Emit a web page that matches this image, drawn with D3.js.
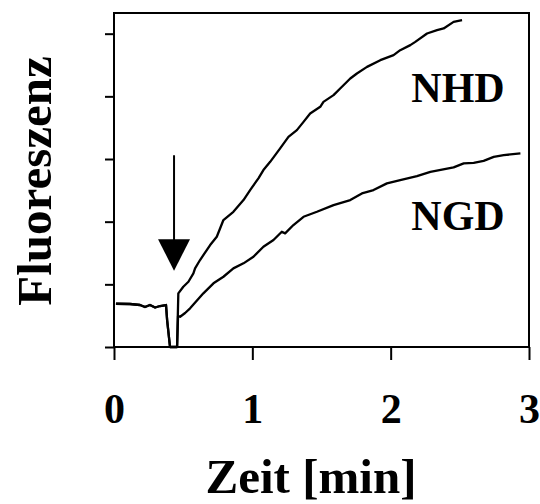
<!DOCTYPE html>
<html>
  <head>
    <meta charset="utf-8">
    <title>Fluoreszenz NHD / NGD</title>
    <script src="https://d3js.org/d3.v7.min.js"></script>
    <style>
      body { margin: 0; background: #fff; }
      text { font-family: "Liberation Serif", "Times New Roman", serif; font-weight: bold; }
    </style>
  </head>
  <body>
    <div id="chart"></div>
    <script>

      // time [min] and fluorescence (arbitrary units, 1 unit = one y tick)
      var baseT = [0.014, 0.116, 0.188, 0.224, 0.26, 0.297, 0.333, 0.376, 0.384, 0.405, 0.456];
      var baseF = [0.69, 0.686, 0.67, 0.638, 0.67, 0.63, 0.654, 0.67, 0.43, 0, 0];

      var nhdT = [0.465, 0.501, 0.538, 0.574, 0.586, 0.622, 0.695, 0.743, 0.791, 0.863, 0.936, 0.984,
                  1.044, 1.08, 1.129, 1.201, 1.261, 1.322, 1.37, 1.418, 1.491, 1.514, 1.587, 1.635,
                  1.708, 1.756, 1.829, 1.925, 2.021, 2.069, 2.142, 2.178, 2.263, 2.335, 2.383, 2.455, 2.516];
      var nhdF = [0.856, 0.962, 1.041, 1.175, 1.255, 1.388, 1.627, 1.759, 2.026, 2.158, 2.344, 2.504,
                  2.691, 2.823, 2.955, 3.169, 3.354, 3.461, 3.593, 3.727, 3.833, 3.912, 4.019, 4.126,
                  4.285, 4.365, 4.47, 4.577, 4.657, 4.737, 4.817, 4.869, 5.003, 5.056, 5.083, 5.188, 5.215];

      var ngdT = [0.463, 0.478, 0.514, 0.55, 0.646, 0.719, 0.791, 0.863, 0.936, 1.008, 1.08, 1.153,
                  1.213, 1.237, 1.297, 1.37, 1.467, 1.587, 1.708, 1.792, 1.876, 1.973, 2.069, 2.19,
                  2.287, 2.455, 2.528, 2.6, 2.672, 2.745, 2.817, 2.938];
      var ngdF = [0.494, 0.483, 0.542, 0.617, 0.856, 1.016, 1.121, 1.255, 1.335, 1.44, 1.6, 1.707,
                  1.839, 1.813, 1.946, 2.078, 2.158, 2.265, 2.344, 2.451, 2.504, 2.611, 2.663, 2.727,
                  2.796, 2.866, 2.93, 2.939, 2.971, 3.035, 3.062, 3.089];

      var xTicks = [0, 1, 2, 3];
      var yTicks = [0, 1, 2, 3, 4, 5];

      // arrow marking the addition (time, top, arrow head top, tip)
      var arrowT = 0.434, arrowTop = 3.06, arrowHead = 1.72, arrowTip = 1.217;

      var width = 540,
          height = 504,
          margin = {top: 13, right: 11, bottom: 157, left: 114};

      var svg = d3.select("#chart")
        .append("svg")
          .attr("width", width)
          .attr("height", height);

      var x = d3.scaleLinear().domain([0, 3]).range([margin.left, width - margin.right]);
      var y = d3.scaleLinear().domain([0, 5.33]).range([height - margin.bottom, margin.top]);

      function zip(t, f) {
        return t.map(function(d, i) { return [d, f[i]]; });
      }
      var base = zip(baseT, baseF);
      var nhd = base.concat(zip(nhdT, nhdF));
      var ngd = base.concat(zip(ngdT, ngdF));

      // frame
      svg.append("rect")
        .attr("x", margin.left)
        .attr("y", margin.top)
        .attr("width", width - margin.left - margin.right)
        .attr("height", height - margin.top - margin.bottom)
        .attr("fill", "none")
        .attr("stroke", "black")
        .attr("stroke-width", 2);

      // x axis
      var xAxis = svg.append("g")
        .attr("transform", "translate(0," + (height - margin.bottom) + ")")
        .call(d3.axisBottom(x).tickValues(xTicks).tickSize(13).tickPadding(33).tickFormat(d3.format("d")));
      xAxis.select(".domain").remove();
      xAxis.selectAll("line").attr("stroke-width", 2);
      xAxis.selectAll("text").attr("font-size", 42).attr("fill", "black")
        .style("font-family", '"Liberation Serif", serif').style("font-weight", "bold");

      // y axis, no labels
      var yAxis = svg.append("g")
        .attr("transform", "translate(" + margin.left + ",0)")
        .call(d3.axisLeft(y).tickValues(yTicks).tickSize(9).tickFormat(""));
      yAxis.select(".domain").remove();
      yAxis.selectAll("line").attr("stroke-width", 2);

      var line = d3.line()
        .x(function(d) { return x(d[0]); })
        .y(function(d) { return y(d[1]); });

      [nhd, ngd].forEach(function(s) {
        svg.append("path")
          .datum(s)
          .attr("d", line)
          .attr("fill", "none")
          .attr("stroke", "black")
          .attr("stroke-width", 2.3)
          .attr("stroke-linejoin", "round");
      });

      // arrow
      svg.append("line")
        .attr("x1", x(arrowT)).attr("x2", x(arrowT))
        .attr("y1", y(arrowTop)).attr("y2", y(arrowHead) + 2)
        .attr("stroke", "black")
        .attr("stroke-width", 2);
      svg.append("path")
        .attr("d", "M" + (x(arrowT) - 16) + "," + y(arrowHead) +
                   "L" + (x(arrowT) + 16) + "," + y(arrowHead) +
                   "L" + x(arrowT) + "," + y(arrowTip) + "Z")
        .attr("fill", "black");

      // curve labels
      svg.append("text")
        .attr("x", 458).attr("y", 102)
        .attr("text-anchor", "middle")
        .attr("font-size", 42)
        .text("NHD");
      svg.append("text")
        .attr("x", 458).attr("y", 230)
        .attr("text-anchor", "middle")
        .attr("font-size", 42)
        .text("NGD");

      // axis titles
      svg.append("text")
        .attr("x", 311).attr("y", 493)
        .attr("text-anchor", "middle")
        .attr("font-size", 49)
        .text("Zeit [min]");
      svg.append("text")
        .attr("transform", "translate(51,181) rotate(-90)")
        .attr("text-anchor", "middle")
        .attr("font-size", 49)
        .text("Fluoreszenz");
    </script>
  </body>
</html>
